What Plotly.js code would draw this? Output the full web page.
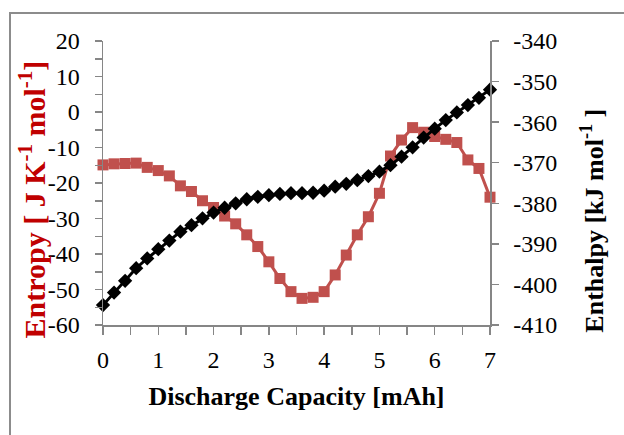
<!DOCTYPE html>
<html>
<head>
<meta charset="utf-8">
<script src="https://cdn.plot.ly/plotly-3.0.1.min.js"></script>
<style>
html,body{margin:0;padding:0;background:#fff;overflow:hidden;}
#wrap{position:relative;width:624px;height:435px;}
#chart{width:624px;height:435px;}
#frame{position:absolute;left:9px;top:12px;width:700px;height:500px;border:2px solid #8c8c8c;pointer-events:none;box-sizing:border-box;}
</style>
</head>
<body>
<div id="wrap"><div id="chart"></div><div id="frame"></div></div>
<script>
const capacity = [0,0.2,0.4,0.6,0.8,1.0,1.2,1.4,1.6,1.8,2.0,2.2,2.4,2.6,2.8,3.0,3.2,3.4,3.6,3.8,4.0,4.2,4.4,4.6,4.8,5.0,5.2,5.4,5.6,5.8,6.0,6.2,6.4,6.6,6.8,7.0];
const entropy = [-14.9,-14.6,-14.5,-14.4,-15.6,-16.5,-18.0,-20.8,-22.4,-25.0,-26.9,-29.3,-31.5,-34.6,-37.9,-42.2,-46.9,-50.6,-52.5,-52.2,-50.6,-45.9,-40.3,-34.6,-29.5,-22.9,-12.4,-7.9,-4.4,-5.7,-6.9,-7.7,-8.6,-13.5,-15.9,-24.0];
const enthalpy = [-405.1,-402.0,-399.1,-396.0,-393.6,-391.3,-389.2,-387.0,-385.4,-383.7,-382.3,-381.1,-380.0,-379.0,-378.4,-378.0,-377.7,-377.5,-377.5,-377.4,-376.9,-375.9,-375.2,-374.3,-373.3,-372.2,-370.6,-368.5,-366.2,-363.8,-361.6,-359.5,-357.6,-355.8,-354.0,-352.0];

const xTicks = [0,1,2,3,4,5,6,7];
const xTickText = ['0','1','2','3','4','5','6','7'];
const yTicks = [20,10,0,-10,-20,-30,-40,-50,-60];
const yTickText = ['20','10','0','-10','-20','-30','-40','-50','-60'];
const y2Ticks = [-340,-350,-360,-370,-380,-390,-400,-410];
const y2TickText = ['-340','-350','-360','-370','-380','-390','-400','-410'];

const serif = "'Liberation Serif','Times New Roman',serif";
const axisGrey = '#868686';

const traces = [
  {x: capacity, y: entropy, type:'scatter', mode:'lines+markers', name:'Entropy',
   line:{color:'#C0504D', width:3}, marker:{symbol:'square', size:11, color:'#C0504D'},
   cliponaxis:false, yaxis:'y'},
  {x: capacity, y: enthalpy, type:'scatter', mode:'lines+markers', name:'Enthalpy',
   line:{color:'#000000', width:3}, marker:{symbol:'diamond', size:11, color:'#000000'},
   cliponaxis:false, yaxis:'y2'}
];

const tickFont = {family: serif, size: 24, color:'#000'};

const layout = {
  width:624, height:435,
  margin:{l:103, r:134, t:41, b:110},
  paper_bgcolor:'#fff', plot_bgcolor:'#fff',
  showlegend:false,
  font:{family: serif},
  xaxis:{range:[0,7], tickmode:'array', tickvals:xTicks, ticktext:xTickText,
    showgrid:false, zeroline:false,
    showline:true, linecolor:axisGrey, linewidth:1.5,
    ticks:'outside', ticklen:8, tickcolor:axisGrey, tickwidth:1.5,
    minor:{dtick:0.5, tick0:0, ticks:'outside', ticklen:8, tickcolor:axisGrey, tickwidth:1.5},
    tickfont:tickFont, ticklabelstandoff:5,
    title:{text:'<b>Discharge Capacity [mAh]</b>', font:{family:serif, size:26, color:'#000'}, standoff:14}},
  yaxis:{range:[-60,20], tickmode:'array', tickvals:yTicks, ticktext:yTickText,
    showgrid:false, zeroline:false,
    showline:true, linecolor:axisGrey, linewidth:1.5,
    ticks:'outside', ticklen:7, tickcolor:axisGrey, tickwidth:1.5,
    minor:{dtick:5, tick0:0, ticks:'outside', ticklen:7, tickcolor:axisGrey, tickwidth:1.5},
    tickfont:tickFont, ticklabelstandoff:10},
  yaxis2:{range:[-410,-340], tickmode:'array', tickvals:y2Ticks, ticktext:y2TickText,
    overlaying:'y', side:'right',
    showgrid:false, zeroline:false,
    showline:true, linecolor:axisGrey, linewidth:1.5,
    ticks:'outside', ticklen:7, tickcolor:axisGrey, tickwidth:1.5,
    tickfont:tickFont, ticklabelstandoff:10},
  annotations:[
    {text:'<b>Entropy [ J K<sup>-1</sup> mol<sup>-1</sup>]</b>', xref:'paper', yref:'paper',
     x:-0.181, y:0.442, textangle:-90, showarrow:false, xanchor:'center', yanchor:'middle',
     font:{family:serif, size:30, color:'#C00000'}},
    {text:'<b>Enthalpy [kJ mol<sup>-1</sup> ]</b>', xref:'paper', yref:'paper',
     x:1.264, y:0.368, textangle:-90, showarrow:false, xanchor:'center', yanchor:'middle',
     font:{family:serif, size:26, color:'#000'}}
  ]
};

Plotly.newPlot('chart', traces, layout, {staticPlot:true, displayModeBar:false});
</script>
</body>
</html>
